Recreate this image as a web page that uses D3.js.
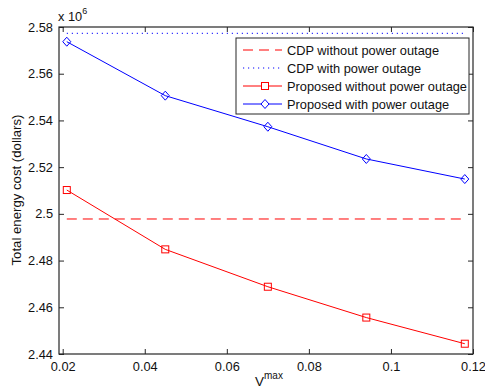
<!DOCTYPE html>
<html>
<head>
<meta charset="utf-8">
<script src="https://cdn.jsdelivr.net/npm/d3@7/dist/d3.min.js"></script>
<style>
  html, body { margin: 0; padding: 0; background: #fff; }
  svg { display: block; font-family: "Liberation Sans", Arial, Helvetica, sans-serif; }
</style>
</head>
<body>
<svg id="chart" width="485" height="391"></svg>
<script>
// V^max values on the x axis
const vmax = [0.021, 0.045, 0.07, 0.094, 0.118];
// Total energy cost, in units of 10^6 dollars
const proposedWithout = [2.5102, 2.4848, 2.4688, 2.4556, 2.4444];
const proposedWith = [2.5737, 2.5506, 2.5373, 2.5235, 2.5149];
const cdpWithout = 2.4978;
const cdpWith = 2.5773;
const xTicks = [0.02, 0.04, 0.06, 0.08, 0.1, 0.12];
const yTicks = [2.44, 2.46, 2.48, 2.5, 2.52, 2.54, 2.56, 2.58];
const legendLabels = [
  "CDP without power outage",
  "CDP with power outage",
  "Proposed without power outage",
  "Proposed with power outage"
];

const RED = "#ff0000", BLUE = "#0000ff", AXIS = "#262626";
const svg = d3.select("#chart");
const L = 59, R = 473, T = 27, B = 354;

const x = d3.scaleLinear().domain([0.0191, 0.12]).range([L, R]);
const y = d3.scaleLinear().domain([2.44, 2.58]).range([B, T]);

const fmtX = d => (d === 0.1 ? "0.1" : d3.format(".2f")(d));
const fmtY = d => (Math.abs(d - 2.5) < 1e-9 ? "2.5" : d3.format(".2f")(d));

// frame + ticks on all four sides (inward)
const tk = 5;
svg.append("g").attr("transform", `translate(0,${B})`)
  .call(d3.axisBottom(x).tickValues(xTicks).tickFormat(fmtX).tickSize(-tk).tickPadding(8))
  .call(g => g.select(".domain").remove());
svg.append("g").attr("transform", `translate(0,${T})`)
  .call(d3.axisTop(x).tickValues(xTicks).tickFormat("").tickSize(-tk))
  .call(g => g.select(".domain").remove());
svg.append("g").attr("transform", `translate(${L},0)`)
  .call(d3.axisLeft(y).tickValues(yTicks).tickFormat(fmtY).tickSize(-tk).tickPadding(6))
  .call(g => g.select(".domain").remove());
svg.append("g").attr("transform", `translate(${R},0)`)
  .call(d3.axisRight(y).tickValues(yTicks).tickFormat("").tickSize(-tk))
  .call(g => g.select(".domain").remove());
svg.selectAll(".tick line").attr("stroke", AXIS);
svg.selectAll(".tick text").attr("fill", "#111").style("font-size", "12.8px");

svg.append("rect").attr("x", L).attr("y", T).attr("width", R - L).attr("height", B - T)
  .attr("fill", "none").attr("stroke", AXIS).attr("stroke-width", 1.2);

// exponent label
const ex = svg.append("text").attr("x", 58).attr("y", 21).attr("fill", "#111").style("font-size", "12.8px");
ex.append("tspan").text("x 10");
ex.append("tspan").attr("dy", -7).style("font-size", "9px").text("6");

// axis titles
const xl = svg.append("text").attr("x", 255).attr("y", 386).attr("fill", "#111").style("font-size", "13.5px");
xl.append("tspan").text("V");
xl.append("tspan").attr("dy", -7).style("font-size", "10px").text("max");
svg.append("text").attr("transform", "translate(21,190) rotate(-90)")
  .attr("text-anchor", "middle").attr("fill", "#111").style("font-size", "13.2px")
  .text("Total energy cost (dollars)");

// reference lines
svg.append("line").attr("x1", x(0.021)).attr("x2", x(0.118))
  .attr("y1", y(cdpWithout)).attr("y2", y(cdpWithout))
  .attr("stroke", RED).attr("stroke-dasharray", "10,6");
svg.append("line").attr("x1", x(0.021)).attr("x2", x(0.118))
  .attr("y1", y(cdpWith)).attr("y2", y(cdpWith))
  .attr("stroke", BLUE).attr("stroke-dasharray", "1.2,3.8");

const line = d3.line().x(d => x(d[0])).y(d => y(d[1]));
const squareMark = (g, cx, cy, color) =>
  g.append("rect").attr("x", cx - 3.5).attr("y", cy - 3.5).attr("width", 7).attr("height", 7)
    .attr("fill", "none").attr("stroke", color);
const diamondMark = (g, cx, cy, color) =>
  g.append("path").attr("d", `M${cx},${cy - 4.5}L${cx + 4},${cy}L${cx},${cy + 4.5}L${cx - 4},${cy}Z`)
    .attr("fill", "none").attr("stroke", color);

const redPts = vmax.map((v, i) => [v, proposedWithout[i]]);
const bluePts = vmax.map((v, i) => [v, proposedWith[i]]);
svg.append("path").datum(redPts).attr("d", line).attr("fill", "none").attr("stroke", RED);
svg.append("path").datum(bluePts).attr("d", line).attr("fill", "none").attr("stroke", BLUE);
const mg = svg.append("g");
redPts.forEach(p => squareMark(mg, x(p[0]), y(p[1]), RED));
bluePts.forEach(p => diamondMark(mg, x(p[0]), y(p[1]), BLUE));

// legend
const lg = svg.append("g");
lg.append("rect").attr("x", 236).attr("y", 38).attr("width", 233).attr("height", 76)
  .attr("fill", "#fff").attr("stroke", AXIS).attr("stroke-width", 1);
const rowsY = [50, 68, 86, 104];
const styles = [
  { c: RED, dash: "10,6", m: null },
  { c: BLUE, dash: "1.2,3.8", m: null },
  { c: RED, dash: null, m: "s" },
  { c: BLUE, dash: null, m: "d" }
];
legendLabels.forEach((lab, i) => {
  const yy = rowsY[i], s = styles[i];
  const ln = lg.append("line").attr("x1", 243).attr("x2", 282).attr("y1", yy).attr("y2", yy).attr("stroke", s.c);
  if (s.dash) ln.attr("stroke-dasharray", s.dash);
  if (s.m === "s") squareMark(lg, 265, yy, s.c).attr("fill", "#fff");
  if (s.m === "d") diamondMark(lg, 265, yy, s.c).attr("fill", "#fff");
  lg.append("text").attr("x", 287).attr("y", yy + 4.5).attr("fill", "#111")
    .style("font-size", "12.8px").text(lab);
});
</script>
</body>
</html>
